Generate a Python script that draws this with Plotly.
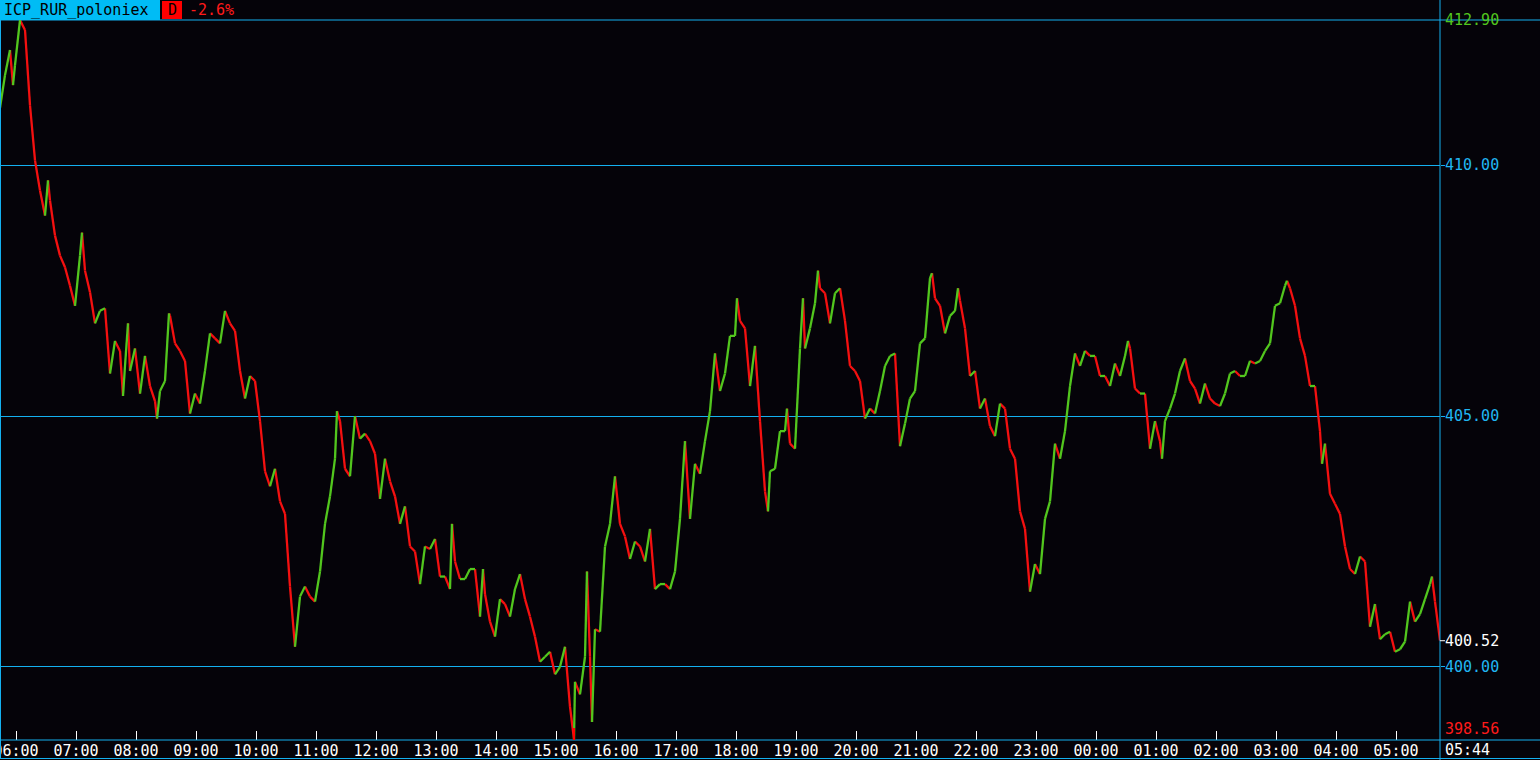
import pandas as pd
import plotly.graph_objects as go

# ---------------- data ----------------
symbol = "ICP_RUR_poloniex"
period_tag = "D"
change_text = "-2.6%"
start_time = "2024-01-01 05:44"   # left edge of the chart
end_label = "05:44"               # right edge (current time)

# minutes after start_time
minute_offsets = [
    0, 5, 10, 13, 15, 20, 25, 30, 35, 40, 45, 48, 50, 55, 60, 65, 70, 75, 80, 82,
    85, 90, 95, 100, 105, 110, 115, 120, 123, 125, 128, 130, 135, 140, 145, 150, 155, 157, 160, 165,
    169, 170, 175, 180, 185, 190, 195, 200, 205, 210, 215, 220, 225, 230, 235, 240, 245, 250, 255, 260,
    265, 270, 275, 280, 285, 290, 295, 300, 305, 310, 315, 320, 325, 330, 335, 337, 340, 345, 350, 355,
    360, 365, 370, 375, 380, 385, 390, 395, 400, 405, 410, 415, 420, 425, 430, 435, 440, 445, 450, 452,
    455, 460, 465, 470, 475, 480, 483, 485, 490, 495, 500, 505, 510, 515, 520, 525, 530, 535, 540, 545,
    550, 555, 560, 565, 570, 574, 575, 580, 585, 587, 590, 592, 595, 600, 605, 610, 615, 620, 625, 630,
    635, 640, 645, 650, 655, 660, 665, 670, 675, 680, 685, 690, 695, 700, 705, 710, 715, 720, 725, 730,
    735, 737, 740, 745, 750, 755, 760, 765, 768, 770, 775, 780, 785, 787, 790, 795, 800, 803, 805, 810,
    815, 818, 820, 825, 830, 835, 840, 845, 850, 855, 860, 865, 870, 875, 880, 885, 890, 895, 900, 905,
    910, 915, 920, 925, 930, 932, 935, 940, 945, 950, 955, 958, 960, 965, 970, 975, 980, 985, 990, 995,
    1000, 1005, 1010, 1015, 1020, 1025, 1030, 1035, 1040, 1045, 1050, 1055, 1060, 1065, 1070, 1075, 1080, 1085, 1090, 1095,
    1100, 1105, 1110, 1115, 1120, 1125, 1128, 1130, 1135, 1140, 1145, 1150, 1155, 1160, 1162, 1165, 1170, 1175, 1180, 1185,
    1190, 1195, 1200, 1205, 1210, 1215, 1220, 1225, 1230, 1235, 1240, 1245, 1250, 1255, 1260, 1265, 1270, 1275, 1280, 1285,
    1287, 1290, 1295, 1300, 1305, 1310, 1315, 1320, 1322, 1325, 1330, 1335, 1340, 1345, 1350, 1355, 1360, 1365, 1370, 1375,
    1380, 1385, 1390, 1395, 1400, 1405, 1410, 1415, 1420, 1425, 1430, 1432, 1435, 1440,
]

close_prices = [
    411.15, 411.80, 412.30, 411.60, 412.00, 412.90, 412.70, 411.20, 410.10, 409.50, 409.00, 409.70, 409.30, 408.60, 408.20, 407.97, 407.60, 407.20, 408.20, 408.66,
    407.90, 407.47, 406.85, 407.10, 407.15, 405.85, 406.50, 406.30, 405.40, 406.00, 406.85, 405.90, 406.35, 405.45, 406.20, 405.60, 405.30, 404.95, 405.50, 405.70,
    407.05, 407.00, 406.45, 406.30, 406.10, 405.05, 405.45, 405.25, 405.90, 406.65, 406.55, 406.45, 407.10, 406.85, 406.70, 405.90, 405.35, 405.80, 405.70, 404.90,
    403.90, 403.60, 403.95, 403.30, 403.05, 401.60, 400.40, 401.40, 401.60, 401.40, 401.30, 401.90, 402.85, 403.40, 404.15, 405.10, 404.90, 403.95, 403.80, 405.00,
    404.55, 404.65, 404.50, 404.25, 403.35, 404.15, 403.70, 403.40, 402.85, 403.20, 402.40, 402.30, 401.65, 402.40, 402.35, 402.55, 401.80, 401.80, 401.55, 402.85,
    402.10, 401.75, 401.75, 401.95, 401.95, 401.00, 401.95, 401.45, 400.90, 400.60, 401.35, 401.25, 401.00, 401.55, 401.85, 401.35, 401.00, 400.60, 400.10, 400.20,
    400.30, 399.85, 400.00, 400.40, 399.20, 398.56, 399.70, 399.45, 400.20, 401.90, 400.20, 398.90, 400.75, 400.70, 402.40, 402.85, 403.80, 402.85, 402.60, 402.15,
    402.50, 402.40, 402.10, 402.75, 401.55, 401.65, 401.65, 401.55, 401.90, 402.95, 404.50, 402.95, 404.05, 403.85, 404.50, 405.10, 406.25, 405.50, 405.85, 406.60,
    406.60, 407.35, 406.90, 406.75, 405.60, 406.40, 404.90, 403.50, 403.10, 403.90, 403.95, 404.70, 404.70, 405.15, 404.45, 404.35, 406.35, 407.35, 406.35, 406.75,
    407.25, 407.90, 407.55, 407.45, 406.85, 407.45, 407.55, 406.90, 406.00, 405.90, 405.70, 404.95, 405.15, 405.05, 405.50, 406.00, 406.20, 406.25, 404.40, 404.85,
    405.35, 405.50, 406.45, 406.55, 407.75, 407.85, 407.35, 407.20, 406.65, 407.00, 407.10, 407.55, 407.30, 406.75, 405.80, 405.90, 405.15, 405.35, 404.80, 404.60,
    405.25, 405.15, 404.35, 404.15, 403.10, 402.75, 401.50, 402.05, 401.85, 402.95, 403.30, 404.45, 404.15, 404.70, 405.60, 406.25, 406.00, 406.30, 406.20, 406.20,
    405.80, 405.80, 405.60, 406.05, 405.80, 406.20, 406.50, 406.35, 405.55, 405.45, 405.45, 404.35, 404.90, 404.50, 404.15, 404.90, 405.15, 405.45, 405.90, 406.15,
    405.70, 405.55, 405.25, 405.65, 405.35, 405.25, 405.20, 405.45, 405.85, 405.90, 405.80, 405.80, 406.10, 406.05, 406.10, 406.30, 406.45, 407.20, 407.25, 407.60,
    407.70, 407.55, 407.20, 406.55, 406.20, 405.60, 405.60, 404.70, 404.05, 404.45, 403.45, 403.25, 403.05, 402.40, 401.95, 401.85, 402.20, 402.10, 400.80, 401.25,
    400.55, 400.65, 400.70, 400.30, 400.35, 400.50, 401.30, 400.90, 401.05, 401.35, 401.65, 401.80, 401.30, 400.52,
]

grid_levels = [400.0, 405.0, 410.0]
grid_labels = ["400.00", "405.00", "410.00"]
price_floor = 398.54   # bottom edge of the price scale
price_ceiling = 412.90  # top edge of the price scale (session high)

# ---------------- styling ----------------
BG = "#050309"
CYAN_LINE = "#14b0f0"
CYAN_TEXT = "#20b6f2"
HEADER_BG = "#00bcf5"
UP = "#52c61e"
DOWN = "#f41010"
FONT = "DejaVu Sans Mono"

W, H = 1540, 760
PL, PR, PT, PB = 0, 100, 20, 20
plot_w = W - PL - PR
plot_h = H - PT - PB


def px_x(px):
    return (px - PL) / plot_w


def px_y(py):
    return (H - PB - py) / plot_h


base = pd.Timestamp(start_time)
times = [base + pd.Timedelta(minutes=m) for m in minute_offsets]
t_end = base + pd.Timedelta(minutes=1440)

gx, gy, rx, ry = [], [], [], []
for i in range(1, len(times)):
    seg_x = [times[i - 1], times[i], None]
    seg_y = [close_prices[i - 1], close_prices[i], None]
    if close_prices[i] >= close_prices[i - 1]:
        gx += seg_x
        gy += seg_y
    else:
        rx += seg_x
        ry += seg_y

fig = go.Figure()
fig.add_trace(go.Scatter(x=rx, y=ry, mode="lines", line=dict(color=DOWN, width=2.3),
                         hoverinfo="skip", showlegend=False))
fig.add_trace(go.Scatter(x=gx, y=gy, mode="lines", line=dict(color=UP, width=2.3),
                         hoverinfo="skip", showlegend=False))

i_max = max(range(len(close_prices)), key=lambda k: close_prices[k])
i_min = min(range(len(close_prices)), key=lambda k: close_prices[k])
last_price = close_prices[-1]

shapes = []
# full-width horizontal frame lines
for yy in (px_y(20), px_y(740), px_y(758.5)):
    shapes.append(dict(type="line", xref="paper", yref="paper", x0=0, x1=px_x(W),
                       y0=yy, y1=yy, line=dict(color=CYAN_LINE, width=1), layer="above"))
# vertical separators
shapes.append(dict(type="line", xref="paper", yref="paper", x0=px_x(1440), x1=px_x(1440),
                   y0=px_y(H), y1=px_y(0), line=dict(color=CYAN_LINE, width=1), layer="above"))
shapes.append(dict(type="line", xref="paper", yref="paper", x0=px_x(0.5), x1=px_x(0.5),
                   y0=px_y(758.5), y1=px_y(20), line=dict(color=CYAN_LINE, width=1), layer="above"))
# header boxes
shapes.append(dict(type="rect", xref="paper", yref="paper", x0=px_x(0), x1=px_x(160),
                   y0=px_y(20), y1=px_y(0), fillcolor=HEADER_BG, line=dict(width=0), layer="above"))
shapes.append(dict(type="rect", xref="paper", yref="paper", x0=px_x(162), x1=px_x(182),
                   y0=px_y(19), y1=px_y(1), fillcolor="#ff0000", line=dict(width=0), layer="above"))
# high / low markers
shapes.append(dict(type="line", xref="x", yref="paper", x0=times[i_max], x1=times[i_max],
                   y0=px_y(24), y1=px_y(20), line=dict(color=UP, width=2), layer="above"))
shapes.append(dict(type="line", xref="x", yref="paper", x0=times[i_min], x1=times[i_min],
                   y0=px_y(740), y1=px_y(728), line=dict(color="#ff0000", width=2), layer="above"))
# last-price tick on the price scale
shapes.append(dict(type="line", xref="paper", yref="y", x0=px_x(1440), x1=px_x(1445),
                   y0=last_price, y1=last_price, line=dict(color="white", width=1), layer="above"))

annotations = []


def right_label(value, text, color, yshift=0):
    annotations.append(dict(xref="paper", yref="y", x=px_x(1443), y=value, text=text,
                            showarrow=False, xanchor="left", yanchor="middle", yshift=yshift,
                            font=dict(family=FONT, size=15, color=color)))


right_label(price_ceiling, f"{close_prices[i_max]:.2f}", UP)
for lv, lab in zip(grid_levels, grid_labels):
    right_label(lv, lab, CYAN_TEXT)
right_label(last_price, f"{last_price:.2f}", "white")
right_label(close_prices[i_min], f"{close_prices[i_min]:.2f}", "#ff1a1a", yshift=10)

annotations.append(dict(xref="paper", yref="paper", x=px_x(1443), y=px_y(750), text=end_label,
                        showarrow=False, xanchor="left", yanchor="middle",
                        font=dict(family=FONT, size=15, color="white")))
annotations.append(dict(xref="paper", yref="paper", x=px_x(2), y=px_y(10), text=symbol,
                        showarrow=False, xanchor="left", yanchor="middle",
                        font=dict(family=FONT, size=15, color="black")))
annotations.append(dict(xref="paper", yref="paper", x=px_x(172), y=px_y(10), text=period_tag,
                        showarrow=False, xanchor="center", yanchor="middle",
                        font=dict(family=FONT, size=15, color="black")))
annotations.append(dict(xref="paper", yref="paper", x=px_x(187), y=px_y(10), text=change_text,
                        showarrow=False, xanchor="left", yanchor="middle",
                        font=dict(family=FONT, size=15, color="#ff1a1a")))

fig.update_layout(
    width=W, height=H,
    margin=dict(l=PL, r=PR, t=PT, b=PB, autoexpand=False),
    paper_bgcolor=BG, plot_bgcolor=BG,
    hovermode=False,
    shapes=shapes,
    annotations=annotations,
    xaxis=dict(
        type="date", range=[base, t_end], automargin=False,
        tick0=base.normalize() + pd.Timedelta(hours=6), dtick=3600000,
        tickformat="%H:%M", ticks="inside", ticklen=9, tickwidth=1, tickcolor="white",
        tickfont=dict(family=FONT, size=15, color="white"),
        ticklabeloverflow="allow",
        showgrid=False, zeroline=False, showline=False, fixedrange=True,
    ),
    yaxis=dict(
        range=[price_floor, price_ceiling], side="right", automargin=False,
        tickvals=grid_levels, showticklabels=False,
        ticks="outside", ticklen=4, tickcolor=CYAN_LINE,
        showgrid=True, gridcolor=CYAN_LINE, gridwidth=1,
        zeroline=False, showline=False, fixedrange=True,
    ),
)

fig.write_html(
    "out.html",
    config={"displayModeBar": False},
    post_script="document.body.style.margin='0';document.body.style.overflow='hidden';",
)
